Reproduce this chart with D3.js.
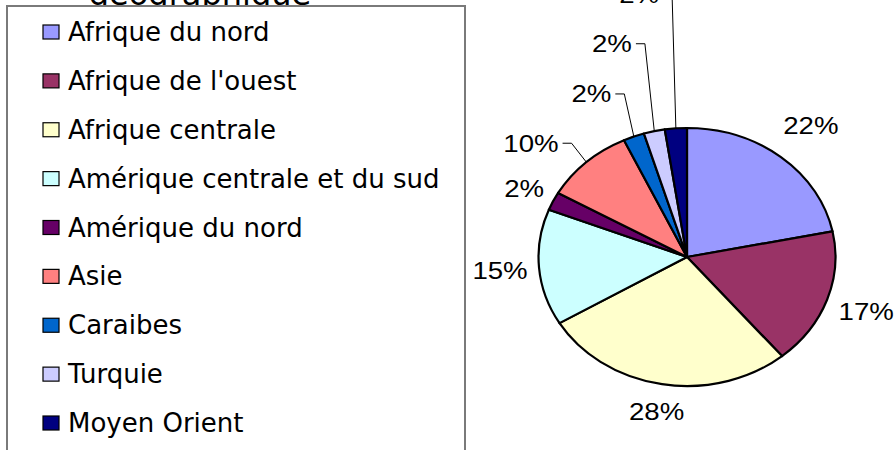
<!DOCTYPE html>
<html>
<head>
<meta charset="utf-8">
<script src="https://cdn.jsdelivr.net/npm/d3@7"></script>
<style>
	body { margin: 0; background: #fff; }
	.legend text { font-family: "DejaVu Sans", Verdana, sans-serif; font-size: 26px; fill: #000; }
	.lbl { font-family: "Liberation Sans", Arial, sans-serif; font-size: 24px; fill: #000; }
	.title { font-family: "DejaVu Sans", Verdana, sans-serif; font-size: 32px; fill: #000; }
</style>
</head>
<body>
<svg></svg>
<script>
	var regions = ["Afrique du nord", "Afrique de l'ouest", "Afrique centrale",
		"Amérique centrale et du sud", "Amérique du nord", "Asie", "Caraibes",
		"Turquie", "Moyen Orient"];
	var shares = [21.9, 17.2, 27.6, 14.6, 2.3, 9.8, 2.3, 2.3, 2.4];
	var colors = ["#9999FF", "#993366", "#FFFFCC", "#CCFFFF", "#660066",
		"#FF8080", "#0066CC", "#CCCCFF", "#000080"];
	var titleText = "géographique";

	var width = 896, height = 450;
	var cx = 687, cy = 257, ry = 129, sx = 1.151; // pie is stretched horizontally

	// label placement: [angle override (deg) or null, distance from centre]
	var labelPlace = [[null, 170], [null, 165], [null, 157], [null, 163], [null, 157],
		[310, 177], [333, 183], [343, 223], [351, 266]];
	var withLeader = [false, false, false, false, false, true, true, true, true];

	var svg = d3.select("svg")
		.attr("width", width)
		.attr("height", height);

	svg.append("rect").attr("width", width).attr("height", height).attr("fill", "#fff");

	// title (only its last line shows at the top)
	svg.append("text")
		.attr("class", "title")
		.attr("x", 200)
		.attr("y", 5)
		.attr("text-anchor", "middle")
		.text(titleText);

	// legend
	var legend = svg.append("g").attr("class", "legend");
	legend.append("rect")
		.attr("x", 7).attr("y", 6)
		.attr("width", 458).attr("height", 470)
		.attr("fill", "#fff")
		.attr("stroke", "#7a7a7a")
		.attr("stroke-width", 2);

	var rowY = d3.scalePoint().domain(regions).range([32, 423]);

	var rows = legend.selectAll(".row")
		.data(regions)
		.enter()
		.append("g")
		.attr("class", "row")
		.attr("transform", d => "translate(0," + rowY(d) + ")");
	rows.append("rect")
		.attr("x", 43).attr("y", -7)
		.attr("width", 16).attr("height", 14)
		.attr("fill", (d, i) => colors[i])
		.attr("stroke", "#000")
		.attr("stroke-width", 1.2);
	rows.append("text")
		.attr("x", 68)
		.attr("dy", "0.35em")
		.text(d => d);

	// pie
	var pie = d3.pie().sort(null).value(d => d);
	var arcs = pie(shares);
	var arc = d3.arc().innerRadius(0).outerRadius(ry);

	var g = svg.append("g")
		.attr("transform", "translate(" + cx + "," + cy + ")");

	g.append("g")
		.attr("transform", "scale(" + sx + ",1)")
		.selectAll("path")
		.data(arcs)
		.enter()
		.append("path")
		.attr("d", arc)
		.attr("fill", (d, i) => colors[i])
		.attr("stroke", "#000")
		.attr("stroke-width", 2.2)
		.attr("vector-effect", "non-scaling-stroke")
		.attr("stroke-linejoin", "round");

	function polar(a, r) {
		return [Math.sin(a) * r * sx, -Math.cos(a) * r];
	}

	arcs.forEach(function (d, i) {
		var mid = (d.startAngle + d.endAngle) / 2;
		var p = labelPlace[i];
		var a = p[0] === null ? mid : p[0] * Math.PI / 180;
		var pos = polar(a, p[1]);
		var t = g.append("text")
			.attr("class", "lbl")
			.attr("text-anchor", "middle")
			.attr("dy", "0.35em")
			.attr("transform", "translate(" + pos[0] + "," + pos[1] + ") scale(" + sx + ",1)")
			.text(Math.round(shares[i]) + "%");
		if (withLeader[i]) {
			var half = t.node().getComputedTextLength() * sx / 2;
			var x0 = pos[0] + half + 4;
			var edge = polar(mid, ry);
			g.append("path")
				.attr("d", "M" + x0 + "," + pos[1] + "H" + (x0 + 9) + "L" + edge[0] + "," + edge[1])
				.attr("fill", "none")
				.attr("stroke", "#000")
				.attr("stroke-width", 1);
		}
	});
</script>
</body>
</html>
